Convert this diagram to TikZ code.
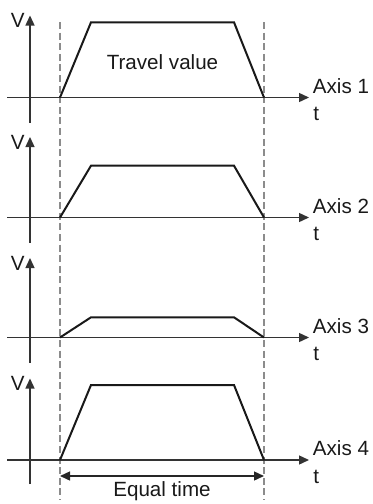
\documentclass[tikz,border=0pt]{standalone}
\usepackage{fontspec}
\setmainfont{Liberation Sans}
\usetikzlibrary{arrows.meta, calc}
\tikzset{
  axisarrow/.style={
    -{Triangle[length=5pt,width=4.5pt]},
    line width=0.7pt, color=black!80
  },
  spanarrow/.style={
    {Triangle[length=5pt,width=4.5pt]}-{Triangle[length=5pt,width=4.5pt]},
    line width=0.7pt, color=black!85
  },
  profile/.style={line width=1pt, color=black!90, line join=miter},
  guideline/.style={line width=0.7pt, color=gray!90, dash pattern=on 3.5pt off 1.8pt},
  plotlabel/.style={inner sep=0pt, font=\fontsize{10.3}{12}\selectfont, text=black!90},
}
\begin{document}
\begin{tikzpicture}[x=0.5pt, y=-0.5pt]
  \useasboundingbox (0,0) rectangle (373,504);
  % guides
  \coordinate (gl0) at (60,22);   \coordinate (gl1) at (60,500);
  \coordinate (gr0) at (264,22);  \coordinate (gr1) at (264,500);
  \draw[guideline] (gl0) -- (gl1);
  \draw[guideline] (gr0) -- (gr1);
  % axis 1
  \coordinate (v1b) at (30,122.5); \coordinate (v1t) at (30,15.5);
  \coordinate (h1a) at (7,97.5);   \coordinate (h1b) at (309,97.5);
  \draw[axisarrow] (v1b) -- (v1t);
  \draw[axisarrow] (h1a) -- (h1b);
  \draw[profile] (60,97.5) -- (91,22.3) -- (234,22.3) -- (264,97.5);
  \node[plotlabel, anchor=base east] (V1) at ($(v1t)+(-5,12)$) {V};
  \node[plotlabel, anchor=base west] (a1) at ($(h1b)+(3.5,-4.4)$) {Axis 1};
  \node[plotlabel, anchor=base west] (t1) at ($(h1b)+(4,23)$) {t};
  \node[plotlabel] (tv) at (162.5,62) {Travel value};
  % axis 2
  \coordinate (v2b) at (30,242.5); \coordinate (v2t) at (30,137);
  \coordinate (h2a) at (7,217.5);  \coordinate (h2b) at (309,217.5);
  \draw[axisarrow] (v2b) -- (v2t);
  \draw[axisarrow] (h2a) -- (h2b);
  \draw[profile] (60,217.5) -- (91,165.7) -- (234,165.7) -- (264,217.5);
  \node[plotlabel, anchor=base east] (V2) at ($(v2t)+(-5,12)$) {V};
  \node[plotlabel, anchor=base west] (a2) at ($(h2b)+(3.5,-4.4)$) {Axis 2};
  \node[plotlabel, anchor=base west] (t2) at ($(h2b)+(4,23)$) {t};
  % axis 3
  \coordinate (v3b) at (30,362.5); \coordinate (v3t) at (30,258);
  \coordinate (h3a) at (7,337.5);  \coordinate (h3b) at (309,337.5);
  \draw[axisarrow] (v3b) -- (v3t);
  \draw[axisarrow] (h3a) -- (h3b);
  \draw[profile] (60,337.5) -- (91,317.3) -- (234,317.3) -- (264,337.5);
  \node[plotlabel, anchor=base east] (V3) at ($(v3t)+(-5,12)$) {V};
  \node[plotlabel, anchor=base west] (a3) at ($(h3b)+(3.5,-4.4)$) {Axis 3};
  \node[plotlabel, anchor=base west] (t3) at ($(h3b)+(4,23)$) {t};
  % axis 4
  \coordinate (v4b) at (30,484); \coordinate (v4t) at (30,378.5);
  \coordinate (h4a) at (7,460);  \coordinate (h4b) at (309,460);
  \draw[axisarrow] (v4b) -- (v4t);
  \draw[axisarrow] (h4a) -- (h4b);
  \draw[profile] (60,460) -- (91,385) -- (234,385) -- (264,460);
  \node[plotlabel, anchor=base east] (V4) at ($(v4t)+(-5,12)$) {V};
  \node[plotlabel, anchor=base west] (a4) at ($(h4b)+(3.5,-4.4)$) {Axis 4};
  \node[plotlabel, anchor=base west] (t4) at ($(h4b)+(4,23)$) {t};
  % equal time
  \coordinate (e0) at (60,476); \coordinate (e1) at (264,476);
  \draw[spanarrow] (e0) -- (e1);
  \node[plotlabel] (eq) at (162,491.5) {Equal time};
\end{tikzpicture}
\end{document}
